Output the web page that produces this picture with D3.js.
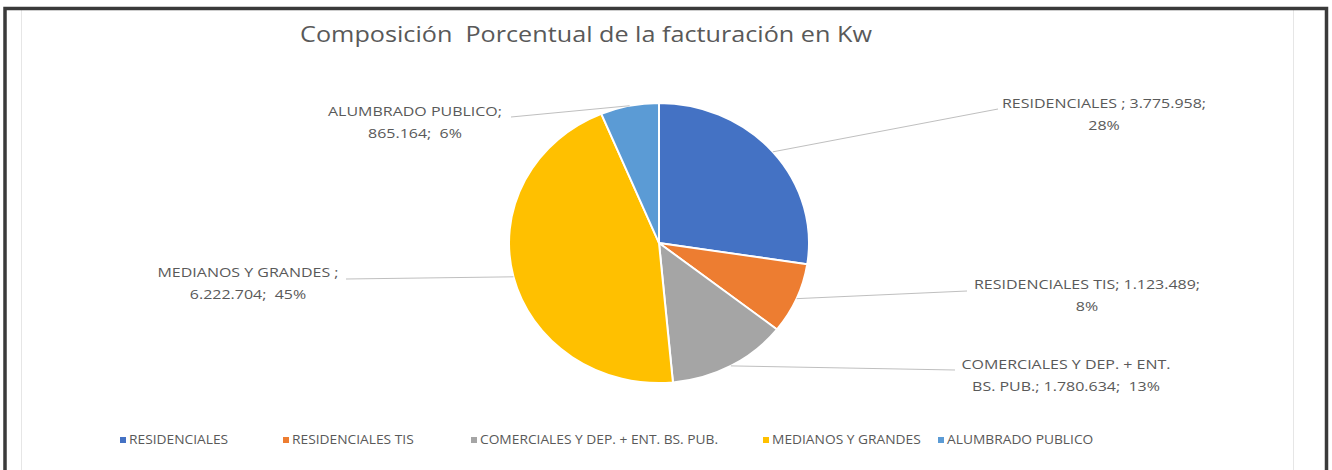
<!DOCTYPE html>
<html>
<head>
<meta charset="utf-8">
<script src="https://cdn.jsdelivr.net/npm/d3@7"></script>
<style>
  body { margin: 0; background: #fff; }
  svg { display: block; font-family: "Open Sans", "Noto Sans", sans-serif; }
  svg text { white-space: pre; }
</style>
</head>
<body>
<svg id="chart" width="1332" height="470"></svg>
<script>
const categories = ["RESIDENCIALES", "RESIDENCIALES TIS", "COMERCIALES Y DEP. + ENT. BS. PUB.", "MEDIANOS Y GRANDES", "ALUMBRADO PUBLICO"]
const values = [3775958, 1123489, 1780634, 6222704, 865164]
const valueLabels = ["3.775.958", "1.123.489", "1.780.634", "6.222.704", "865.164"]
const percentLabels = ["28%", "8%", "13%", "45%", "6%"]
const colors = ["#4472C4", "#ED7D31", "#A5A5A5", "#FFC000", "#5B9BD5"]

// label text lines as shown in the chart
const labelLines = [
  ["RESIDENCIALES ; " + valueLabels[0] + ";", percentLabels[0]],
  ["RESIDENCIALES TIS; " + valueLabels[1] + ";", percentLabels[1]],
  ["COMERCIALES Y DEP. + ENT.", "BS. PUB.; " + valueLabels[2] + ";  " + percentLabels[2]],
  ["MEDIANOS Y GRANDES ;", valueLabels[3] + ";  " + percentLabels[3]],
  ["ALUMBRADO PUBLICO;", valueLabels[4] + ";  " + percentLabels[4]]
]

// layout: where each leader line ends and where its label sits
const layout = [
  {end: [998, 109], tx: 1104, ty: 108},
  {end: [967, 291], tx: 1087, ty: 289},
  {end: [955, 370], tx: 1066, ty: 369},
  {end: [346, 279], tx: 248, ty: 277},
  {end: [511, 117], tx: 415, ty: 116}
]
const legendX = [120, 283, 471, 763, 938]

const W = 1332, H = 470
const cx = 659, cy = 243, rx = 150, ry = 140
const stretch = 1.3   // the source text is wide, stretch glyphs horizontally
const svg = d3.select("#chart")

// frame
svg.append("rect").attr("x", 0).attr("y", 0).attr("width", W).attr("height", H).attr("fill", "#fff")
svg.append("line").attr("x1", 21.5).attr("x2", 21.5).attr("y1", 10).attr("y2", H).attr("stroke", "#e6e6e6")
svg.append("line").attr("x1", 1293.5).attr("x2", 1293.5).attr("y1", 10).attr("y2", H).attr("stroke", "#e6e6e6")
svg.append("path")
  .attr("d", `M5,${H} V8.5 H1326.5 V${H}`)
  .attr("fill", "none").attr("stroke", "#3a3a3a").attr("stroke-width", 3.5)

svg.append("g")
  .attr("transform", "translate(586,42) scale(1.12,1)")
  .append("text")
  .attr("text-anchor", "middle")
  .attr("font-size", 22.5)
  .attr("fill", "#595959")
  .text("Composición  Porcentual de la facturación en Kw")

const pie = d3.pie().sort(null).value(d => d)
const arcs = pie(values)
const arc = d3.arc().innerRadius(0).outerRadius(rx)

const g = svg.append("g").attr("transform", `translate(${cx},${cy}) scale(1,${ry / rx})`)
g.selectAll("path")
  .data(arcs)
  .enter()
  .append("path")
  .attr("d", arc)
  .attr("fill", (d, i) => colors[i])
  .attr("stroke", "#fff")
  .attr("stroke-width", 2)

// leader lines
const edge = d => {
  const a = (d.startAngle + d.endAngle) / 2
  return [cx + rx * Math.sin(a), cy - ry * Math.cos(a)]
}
svg.selectAll(".leader")
  .data(arcs)
  .enter()
  .append("line")
  .attr("class", "leader")
  .attr("x1", d => edge(d)[0])
  .attr("y1", d => edge(d)[1])
  .attr("x2", (d, i) => layout[i].end[0])
  .attr("y2", (d, i) => layout[i].end[1])
  .attr("stroke", "#bfbfbf")
  .attr("stroke-width", 1)

const labels = svg.selectAll(".lbl")
  .data(labelLines)
  .enter()
  .append("g")
  .attr("class", "lbl")
  .attr("transform", (d, i) => `translate(${layout[i].tx},${layout[i].ty}) scale(${stretch},1)`)
  .append("text")
  .attr("text-anchor", "middle")
  .attr("font-size", 12.3)
  .attr("fill", "#595959")
labels.selectAll("tspan")
  .data(d => d)
  .enter()
  .append("tspan")
  .attr("x", 0)
  .attr("y", (d, j) => j * 22)
  .text(d => d)

// legend
const leg = svg.selectAll(".leg")
  .data(categories)
  .enter()
  .append("g")
  .attr("class", "leg")
  .attr("transform", (d, i) => `translate(${legendX[i]},440)`)
leg.append("rect")
  .attr("x", 0).attr("y", -3).attr("width", 6).attr("height", 6)
  .attr("fill", (d, i) => colors[i])
leg.append("g")
  .attr("transform", "translate(9,4) scale(1.12,1)")
  .append("text")
  .attr("font-size", 12.3)
  .attr("fill", "#595959")
  .text(d => d)
</script>
</body>
</html>
